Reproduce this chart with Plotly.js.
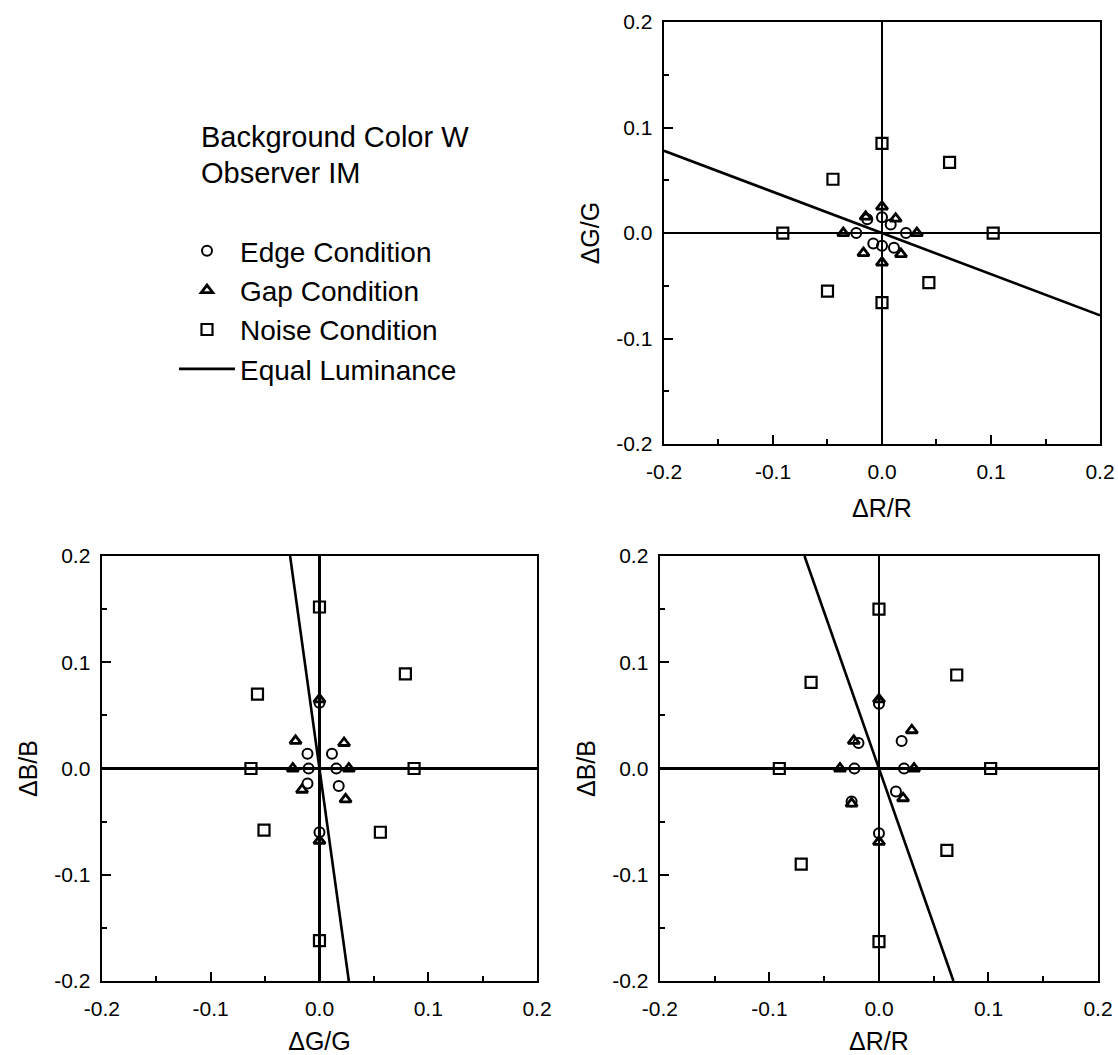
<!DOCTYPE html>
<html>
<head>
<meta charset="utf-8">
<script src="https://cdn.plot.ly/plotly-3.0.1.min.js"></script>
<style>html,body{margin:0;padding:0;background:#fff;}#chart{width:1118px;height:1055px;}</style>
</head>
<body>
<div id="chart"></div>
<script>
// Tick values / labels
const tickVals = [-0.2, -0.1, 0.0, 0.1, 0.2];
const tickText = ["-0.2", "-0.1", "0.0", "0.1", "0.2"];
const minorVals = [-0.15, -0.05, 0.05, 0.15];

// Panel: ΔR/R (x) vs ΔG/G (y) — top right
const rgEdgeX  = [0, -0.0135, 0.008, -0.0236, 0.022, -0.008, 0, 0.011];
const rgEdgeY  = [0.015, 0.013, 0.008, 0, 0, -0.010, -0.012, -0.014];
const rgGapX   = [0, -0.015, 0.0125, -0.0355, 0.032, -0.017, 0.0174, 0];
const rgGapY   = [0.025, 0.0155, 0.0136, 0, 0, -0.019, -0.020, -0.028];
const rgNoiseX = [0, 0.062, -0.045, -0.091, 0.102, 0.043, -0.050, 0];
const rgNoiseY = [0.085, 0.067, 0.051, 0, 0, -0.047, -0.055, -0.066];
const rgLumX   = [-0.2, 0.2];
const rgLumY   = [0.078, -0.078];

// Panel: ΔG/G (x) vs ΔB/B (y) — bottom left
const gbEdgeX  = [0, -0.011, 0.0115, -0.010, 0.0155, -0.011, 0.0177, 0];
const gbEdgeY  = [0.062, 0.014, 0.014, 0, 0, -0.014, -0.0165, -0.060];
const gbGapX   = [0, -0.022, 0.0226, -0.0245, 0.027, -0.016, 0.024, 0];
const gbGapY   = [0.065, 0.026, 0.024, 0, 0, -0.020, -0.029, -0.068];
const gbNoiseX = [0, 0.079, -0.057, -0.063, 0.087, -0.051, 0.056, 0];
const gbNoiseY = [0.152, 0.089, 0.070, 0, 0, -0.058, -0.060, -0.162];
const gbLumX   = [-0.027, 0.027];
const gbLumY   = [0.2, -0.2];

// Panel: ΔR/R (x) vs ΔB/B (y) — bottom right
const rbEdgeX  = [0, -0.0187, 0.0207, -0.0224, 0.0229, -0.025, 0.0155, 0];
const rbEdgeY  = [0.061, 0.024, 0.026, 0, 0, -0.031, -0.0216, -0.061];
const rbGapX   = [0, -0.023, 0.030, -0.0356, 0.032, -0.025, 0.022, 0];
const rbGapY   = [0.065, 0.026, 0.036, 0, 0, -0.033, -0.028, -0.069];
const rbNoiseX = [0, 0.071, -0.062, -0.091, 0.102, 0.062, -0.071, 0];
const rbNoiseY = [0.150, 0.088, 0.081, 0, 0, -0.077, -0.090, -0.163];
const rbLumX   = [-0.068, 0.068];
const rbLumY   = [0.2, -0.2];

const seriesNames = ["Edge Condition", "Gap Condition", "Noise Condition", "Equal Luminance"];

const FONT = "Liberation Sans, Arial, Helvetica, sans-serif";
const edgeMarker  = {symbol: "circle-open", size: 10, color: "#000", line: {width: 2, color: "#000"}};
const gapMarker   = {symbol: "triangle-up-open", size: 10, color: "#000", line: {width: 2.8, color: "#000"}};
const noiseMarker = {symbol: "square-open", size: 11, color: "#000", line: {width: 2.2, color: "#000"}};
const lumLine     = {color: "#000", width: 2.6};

function panel(xs, ys, xa, ya, show) {
  return [
    {x: xs[3], y: ys[3], xaxis: xa, yaxis: ya, mode: "lines", line: lumLine, name: seriesNames[3], showlegend: show, legendrank: 4, hoverinfo: "skip"},
    {x: xs[0], y: ys[0], xaxis: xa, yaxis: ya, mode: "markers", marker: edgeMarker, name: seriesNames[0], showlegend: show, legendrank: 1},
    {x: xs[1], y: ys[1], xaxis: xa, yaxis: ya, mode: "markers", marker: gapMarker, name: seriesNames[1], showlegend: show, legendrank: 2},
    {x: xs[2], y: ys[2], xaxis: xa, yaxis: ya, mode: "markers", marker: noiseMarker, name: seriesNames[2], showlegend: show, legendrank: 3}
  ];
}

const data = [].concat(
  panel([rgEdgeX, rgGapX, rgNoiseX, rgLumX], [rgEdgeY, rgGapY, rgNoiseY, rgLumY], "x", "y", true),
  panel([gbEdgeX, gbGapX, gbNoiseX, gbLumX], [gbEdgeY, gbGapY, gbNoiseY, gbLumY], "x2", "y2", false),
  panel([rbEdgeX, rbGapX, rbNoiseX, rbLumX], [rbEdgeY, rbGapY, rbNoiseY, rbLumY], "x3", "y3", false)
);

function axis(domain, anchor, title, isY, standoff) {
  return {
    domain: domain, anchor: anchor, range: [-0.2, 0.2],
    tickmode: "array", tickvals: tickVals, ticktext: tickText,
    ticks: "inside", ticklen: 9, tickwidth: 2, tickcolor: "#000",
    minor: {tickmode: "array", tickvals: minorVals, ticks: "inside", ticklen: 5, tickwidth: 2, tickcolor: "#000", showgrid: false},
    showline: true, linecolor: "#000", linewidth: 2.4, mirror: true,
    showgrid: false, zeroline: true, zerolinecolor: "#000", zerolinewidth: 2.4,
    tickfont: {family: FONT, size: 21, color: "#000"},
    ticklabelstandoff: isY ? 5 : 7,
    title: {text: title, font: {family: FONT, size: 25, color: "#000"}, standoff: standoff},
    fixedrange: true
  };
}

const layout = {
  width: 1118, height: 1055,
  margin: {l: 0, r: 0, t: 0, b: 0},
  paper_bgcolor: "#fff", plot_bgcolor: "#fff",
  font: {family: FONT, color: "#000"},
  xaxis:  axis([0.5939, 0.9839], "y",  "ΔR/R", false, 18),
  yaxis:  axis([0.5791, 0.9791], "x",  "ΔG/G", true, 10),
  xaxis2: axis([0.0912, 0.4803], "y2", "ΔG/G", false, 16),
  yaxis2: axis([0.0701, 0.4730], "x2", "ΔB/B", true, 10),
  xaxis3: axis([0.5903, 0.9821], "y3", "ΔR/R", false, 16),
  yaxis3: axis([0.0701, 0.4730], "x3", "ΔB/B", true, 10),
  showlegend: true,
  legend: {
    x: 174/1118, y: 1 - 226/1055, xanchor: "left", yanchor: "top",
    font: {family: FONT, size: 28, color: "#000"},
    bgcolor: "rgba(0,0,0,0)", borderwidth: 0, traceorder: "normal",
    itemwidth: 56, tracegroupgap: 0
  },
  annotations: [
    {xref: "paper", yref: "paper", x: 199/1118, y: 1 - 137/1055, xanchor: "left", yanchor: "middle",
     align: "left", showarrow: false, text: "Background Color W",
     font: {family: FONT, size: 29, color: "#000"}},
    {xref: "paper", yref: "paper", x: 199/1118, y: 1 - 173/1055, xanchor: "left", yanchor: "middle",
     align: "left", showarrow: false, text: "Observer IM",
     font: {family: FONT, size: 29, color: "#000"}}
  ]
};

Plotly.newPlot("chart", data, layout, {displayModeBar: false, staticPlot: true});
</script>
</body>
</html>
